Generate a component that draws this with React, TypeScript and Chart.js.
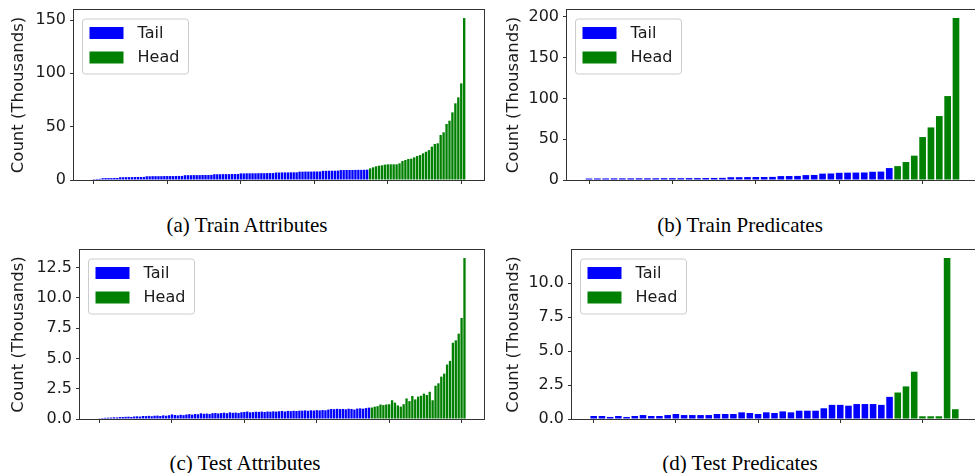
import React, { useEffect, useRef } from 'react';
import { Chart, registerables } from 'chart.js';

Chart.register(...registerables);

// ---------------- data (thousands) ----------------
const TAIL_LABEL = 'Tail';
const HEAD_LABEL = 'Head';
const Y_TITLE = 'Count (Thousands)';

const trainAttrTail = [
  0.8, 1.0, 1.1,
  1.7, 1.8, 1.8, 1.8, 1.9, 1.9,
  2.6, 2.6, 2.7, 2.7, 2.7, 2.8, 2.8, 2.8, 2.9,
  3.5, 3.5, 3.6, 3.6, 3.6, 3.6, 3.7, 3.7, 3.7, 3.7, 3.8, 3.8, 3.8,
  4.5, 4.5, 4.5, 4.6, 4.6, 4.6, 4.7, 4.7, 4.7, 4.8,
  5.4, 5.4, 5.4, 5.5, 5.5, 5.5, 5.6, 5.6, 5.6,
  6.2, 6.2, 6.3, 6.3, 6.3, 6.3, 6.4, 6.4, 6.4, 6.5, 6.5, 6.5,
  7.0, 7.0, 7.1, 7.1, 7.1, 7.2, 7.2, 7.2,
  7.8, 7.8, 7.9, 7.9, 7.9, 8.0, 8.0, 8.0,
  8.6, 8.6, 8.7, 8.7, 8.7, 8.8,
  9.3, 9.3, 9.4, 9.4, 9.4, 9.5, 9.5, 9.5, 9.6, 9.7,
];
const trainAttrHead = [
  10.9, 11.9, 12.8, 13.4, 13.75, 14.4, 14.7, 14.7, 14.7, 14.7,
  15.6, 17.8, 18.75, 19.7, 20.0, 21.25, 22.5, 23.4, 25.0, 26.5,
  28.0, 31.25, 33.75, 34.4, 42.2, 44.7, 52.5, 55.6, 63.4, 71.9,
  77.5, 90.6, 151.8,
];

const testAttrTail = [
  0.06, 0.08, 0.10, 0.11, 0.12, 0.14, 0.13, 0.16, 0.17, 0.18,
  0.19, 0.17, 0.21, 0.22, 0.20, 0.25, 0.24, 0.26, 0.23, 0.27,
  0.28, 0.25, 0.30, 0.27, 0.31, 0.38, 0.33, 0.30, 0.35, 0.32,
  0.37, 0.40, 0.36, 0.41, 0.39, 0.47, 0.43, 0.45, 0.42, 0.48,
  0.50, 0.46, 0.49, 0.52, 0.48, 0.55, 0.51, 0.53, 0.50, 0.56,
  0.58, 0.62, 0.55, 0.57, 0.60, 0.59, 0.61, 0.58, 0.62, 0.60,
  0.63, 0.61, 0.64, 0.66, 0.62, 0.67, 0.65, 0.68, 0.66, 0.69,
  0.69, 0.71, 0.68, 0.72, 0.70, 0.73, 0.71, 0.74, 0.72, 0.78,
  0.83, 0.81, 0.84, 0.82, 0.83, 0.80, 0.85, 0.83, 0.78, 0.86,
  0.88, 0.85, 0.90, 0.94,
];
const testAttrHead = [
  0.95, 1.02, 1.06, 1.20, 1.15, 1.20, 1.22, 1.55, 1.35, 1.12,
  1.02, 1.22, 1.70, 1.48, 1.90, 1.62, 1.85, 1.92, 2.10, 1.98,
  2.25, 1.55, 2.75, 2.95, 3.50, 3.75, 4.50, 4.80, 6.30, 6.50,
  7.05, 8.35, 13.3,
];

const trainPredTail = [
  1.8, 1.9, 1.9, 2.0, 2.0, 2.0, 2.1, 2.1, 2.1, 2.2,
  2.2, 2.2, 2.3, 2.3, 2.4, 2.5, 2.6, 3.4, 3.5, 3.6,
  3.7, 3.7, 3.8, 4.8, 4.9, 5.0, 6.0, 6.2, 7.8, 8.0,
  8.8, 9.0, 9.1, 9.2, 10.1, 10.3, 14.6,
];
const trainPredHead = [17.0, 22.0, 29.8, 52.6, 64.4, 78.3, 102.8, 198.3];

const testPredTail = [
  0.22, 0.22, 0.15, 0.22, 0.15, 0.22, 0.29, 0.22, 0.22, 0.29,
  0.37, 0.29, 0.29, 0.29, 0.29, 0.37, 0.37, 0.37, 0.49, 0.44,
  0.37, 0.49, 0.44, 0.56, 0.49, 0.61, 0.61, 0.61, 0.79, 1.04,
  1.04, 0.98, 1.10, 1.10, 1.10, 1.04, 1.63,
];
const testPredHead = [1.95, 2.4, 3.48, 0.2, 0.2, 0.2, 11.85, 0.72];

const attrXTicks = [0, 25, 50, 75, 100, 125];
const predXTicks = [0, 10, 20, 30, 40];
const trainAttrYTicks = [0, 50, 100, 150];
const trainPredYTicks = [0, 50, 100, 150, 200];
const testAttrYTicks = [0, 2.5, 5, 7.5, 10, 12.5];
const testPredYTicks = [0, 2.5, 5, 7.5, 10];

const captions = ['(a) Train Attributes', '(b) Train Predicates', '(c) Test Attributes', '(d) Test Predicates'];

// ---------------- style / layout ----------------
const FONT = '"DejaVu Sans", Verdana, sans-serif';
const SERIF = '"Liberation Serif", "Times New Roman", serif';
const TEXT = '#1a1a1a';
const BLUE = '#0000ff';
const GREEN = '#008000';
const SPINE = '#333333';

type Area = { l: number; t: number; r: number; b: number };
type Box = { left: number; top: number; width: number; height: number };
interface PanelSpec {
  tail: number[];
  head: number[];
  xTicks: number[];
  yTicks: number[];
  decimals: number;
  box: Box;
  area: Area;
  titleCenter: number;
}

const panels: PanelSpec[] = [
  {
    tail: trainAttrTail, head: trainAttrHead, xTicks: attrXTicks, yTicks: trainAttrYTicks, decimals: 0,
    box: { left: 0, top: 0, width: 490, height: 200 }, area: { l: 74, t: 10, r: 484, b: 180 }, titleCenter: 19,
  },
  {
    tail: trainPredTail, head: trainPredHead, xTicks: predXTicks, yTicks: trainPredYTicks, decimals: 0,
    box: { left: 490, top: 0, width: 500, height: 200 }, area: { l: 567, t: 10, r: 978, b: 180 }, titleCenter: 513.7,
  },
  {
    tail: testAttrTail, head: testAttrHead, xTicks: attrXTicks, yTicks: testAttrYTicks, decimals: 1,
    box: { left: 0, top: 240, width: 490, height: 200 }, area: { l: 80, t: 250, r: 484, b: 419 }, titleCenter: 19,
  },
  {
    tail: testPredTail, head: testPredHead, xTicks: predXTicks, yTicks: testPredYTicks, decimals: 1,
    box: { left: 490, top: 240, width: 500, height: 200 }, area: { l: 572, t: 250, r: 977, b: 419 }, titleCenter: 513.7,
  },
];

const captionPos = [
  { cx: 247, top: 215 },
  { cx: 740, top: 215 },
  { cx: 245, top: 453 },
  { cx: 740, top: 453 },
];

function zeroPadding(s: any) {
  s.paddingTop = 0;
  s.paddingBottom = 0;
  s.paddingLeft = 0;
  s.paddingRight = 0;
}

function ChartPanel({ spec }: { spec: PanelSpec }) {
  const ref = useRef<HTMLCanvasElement>(null);
  useEffect(() => {
    const canvas = ref.current;
    if (!canvas) return;
    const { tail, head, xTicks, yTicks, decimals, box, area, titleCenter } = spec;
    const n = tail.length + head.length;
    const bw = 0.8;
    const extent = n - 1 + bw;
    const xMin = -bw / 2 - 0.05 * extent;
    const xMax = n - 1 + bw / 2 + 0.05 * extent;
    const yMax = Math.max(...tail, ...head) * 1.05;
    const yAxisW = area.l - box.left;
    const xAxisH = box.top + box.height - area.b;
    const padTop = area.t - box.top;
    const padRight = box.left + box.width - area.r;
    const titleSize = 16.5;
    const titlePad = titleCenter - box.left - (titleSize * 1.2) / 2;

    const spines = {
      id: 'spines',
      afterDatasetsDraw(chart: any) {
        const { ctx, chartArea: a } = chart;
        ctx.save();
        ctx.strokeStyle = SPINE;
        ctx.lineWidth = 1;
        ctx.strokeRect(
          Math.round(a.left) - 0.5,
          Math.round(a.top) - 0.5,
          Math.round(a.right - a.left) + 1,
          Math.round(a.bottom - a.top) + 1,
        );
        ctx.restore();
      },
    };

    const boxLegend = {
      id: 'boxLegend',
      afterDraw(chart: any) {
        const { ctx, chartArea: a } = chart;
        const fx = a.left + 8.5;
        const fy = a.top + 9;
        const fw = 106;
        const fh = 55;
        ctx.save();
        ctx.beginPath();
        if (ctx.roundRect) ctx.roundRect(fx, fy, fw, fh, 3);
        else ctx.rect(fx, fy, fw, fh);
        ctx.fillStyle = 'rgba(255,255,255,0.8)';
        ctx.fill();
        ctx.strokeStyle = '#cccccc';
        ctx.lineWidth = 1;
        ctx.stroke();
        const items = chart.data.datasets.map((d: any) => ({ label: d.label, color: d.backgroundColor }));
        ctx.font = `16px ${FONT}`;
        ctx.textBaseline = 'middle';
        ctx.textAlign = 'left';
        items.forEach((it: any, i: number) => {
          const cy = fy + 14 + i * 24.5;
          ctx.fillStyle = it.color;
          ctx.fillRect(fx + 7, cy - 6, 34, 12);
          ctx.fillStyle = TEXT;
          ctx.fillText(it.label, fx + 55, cy + 0.5);
        });
        ctx.restore();
      },
    };

    const common = { grouped: false, categoryPercentage: 1, barPercentage: bw, borderWidth: 0 };
    const chart = new Chart(canvas, {
      type: 'bar',
      data: {
        datasets: [
          { label: TAIL_LABEL, data: tail.map((v, i) => ({ x: i, y: v })), backgroundColor: BLUE, ...common } as any,
          { label: HEAD_LABEL, data: head.map((v, i) => ({ x: tail.length + i, y: v })), backgroundColor: GREEN, ...common } as any,
        ],
      },
      options: {
        responsive: false,
        animation: false,
        devicePixelRatio: 1,
        layout: { padding: { left: 0, top: padTop, right: padRight, bottom: 0 } },
        plugins: { legend: { display: false }, tooltip: { enabled: false } },
        scales: {
          x: {
            type: 'linear',
            bounds: 'data',
            min: xMin,
            max: xMax,
            offset: false,
            grid: { display: true, drawOnChartArea: false, drawTicks: true, tickLength: 4, color: SPINE, offset: false },
            border: { display: false },
            ticks: { display: false, autoSkip: false },
            afterBuildTicks: (s: any) => {
              s.ticks = xTicks.map((v) => ({ value: v }));
            },
            afterFit: (s: any) => {
              s.height = xAxisH;
              zeroPadding(s);
            },
          },
          y: {
            type: 'linear',
            bounds: 'data',
            min: 0,
            max: yMax,
            grid: { drawOnChartArea: false, drawTicks: true, tickLength: 4, color: SPINE },
            border: { display: false },
            ticks: {
              autoSkip: false,
              font: { family: FONT, size: 16 },
              color: TEXT,
              padding: 4,
              callback: (v: any) => Number(v).toFixed(decimals),
            },
            afterBuildTicks: (s: any) => {
              s.ticks = yTicks.map((v) => ({ value: v }));
            },
            afterFit: (s: any) => {
              s.width = yAxisW;
              zeroPadding(s);
            },
            title: {
              display: true,
              text: Y_TITLE,
              font: { family: FONT, size: titleSize },
              color: TEXT,
              padding: { top: titlePad, bottom: 0 },
            },
          },
        },
      } as any,
      plugins: [spines, boxLegend],
    });
    return () => chart.destroy();
  }, [spec]);
  const { box } = spec;
  return (
    <canvas
      ref={ref}
      width={box.width}
      height={box.height}
      style={{ position: 'absolute', left: box.left, top: box.top, width: box.width, height: box.height }}
    />
  );
}

export default function App() {
  return (
    <div
      style={{
        position: 'absolute',
        left: 0,
        top: 0,
        width: 975,
        height: 473,
        overflow: 'hidden',
        background: '#ffffff',
      }}
    >
      {panels.map((p, i) => (
        <ChartPanel key={i} spec={p} />
      ))}
      {captions.map((c, i) => (
        <div
          key={'c' + i}
          style={{
            position: 'absolute',
            left: captionPos[i].cx - 150,
            top: captionPos[i].top,
            width: 300,
            textAlign: 'center',
            fontFamily: SERIF,
            fontSize: 21,
            lineHeight: '21px',
            color: '#000',
            whiteSpace: 'nowrap',
          }}
        >
          {c}
        </div>
      ))}
    </div>
  );
}
